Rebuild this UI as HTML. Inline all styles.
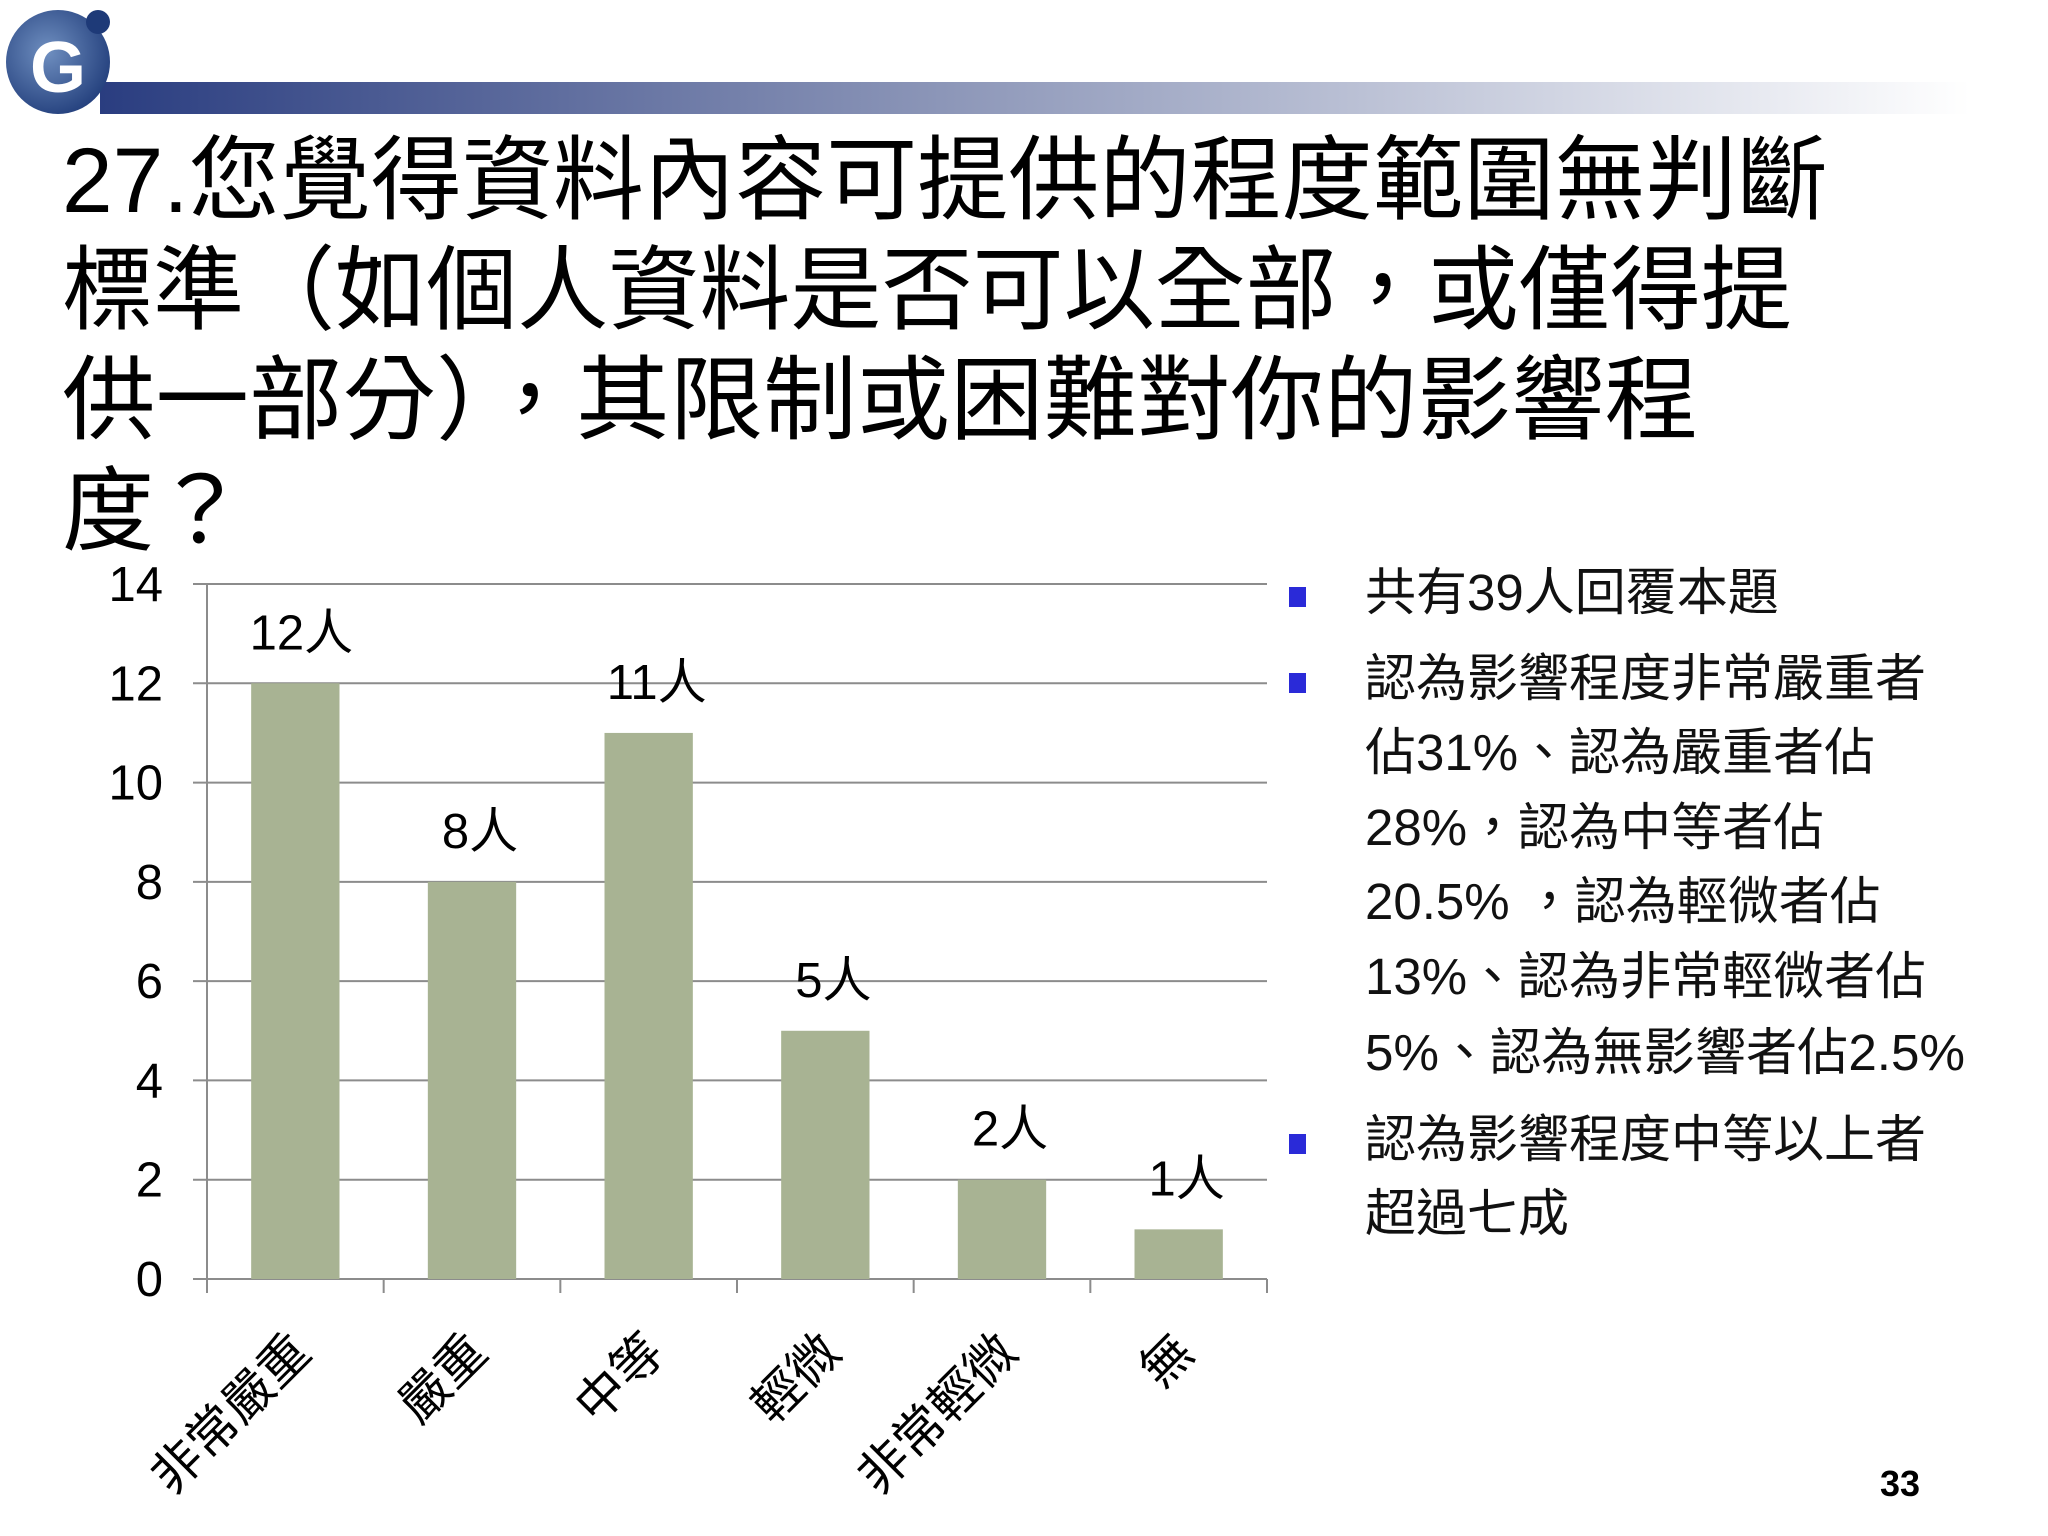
<!DOCTYPE html>
<html><head><meta charset="utf-8"><style>
html,body{margin:0;padding:0;background:#fff}
svg{display:block}
text{font-family:"Liberation Sans","Noto Sans CJK TC",sans-serif;}
</style></head><body>
<svg id="chart" width="2048" height="1536" viewBox="0 0 2048 1536" xmlns="http://www.w3.org/2000/svg">
<defs>
<linearGradient id="hb" x1="0" x2="1" y1="0" y2="0">
<stop offset="0" stop-color="#2a3d80"/><stop offset="0.45" stop-color="#8c96b8"/><stop offset="1" stop-color="#ffffff"/>
</linearGradient>
<radialGradient id="lg" cx="0.4" cy="0.4" r="0.7"><stop offset="0" stop-color="#6f8fc0"/><stop offset="1" stop-color="#1e3a78"/></radialGradient>
</defs>
<rect x="100" y="82" width="1870" height="32" fill="url(#hb)"/>
<g>
<circle cx="58" cy="62" r="52" fill="url(#lg)"/>
<text x="30" y="92" font-size="72" font-weight="bold" fill="#ffffff">G</text>
<circle cx="98" cy="22" r="12" fill="#1e3a78"/>
</g>
<g font-size="92" fill="#000">
<text x="62" y="212" textLength="1766" lengthAdjust="spacingAndGlyphs">27.您覺得資料內容可提供的程度範圍無判斷</text>
<text x="62" y="322" textLength="1730" lengthAdjust="spacingAndGlyphs">標準（如個人資料是否可以全部，或僅得提</text>
<text x="62" y="432" textLength="1636" lengthAdjust="spacingAndGlyphs">供一部分），其限制或困難對你的影響程</text>
<text x="62" y="543">度？</text>
</g>
<g id="plot"></g>
<g font-size="51" fill="#111">
<rect x="1289" y="587" width="17" height="20" fill="#2a2ad8"/>
<rect x="1289" y="673" width="17" height="20" fill="#2a2ad8"/>
<rect x="1289" y="1134" width="17" height="20" fill="#2a2ad8"/>
<text x="1365" y="610">共有39人回覆本題</text>
<text x="1365" y="696">認為影響程度非常嚴重者</text>
<text x="1365" y="770">佔31%、認為嚴重者佔</text>
<text x="1365" y="845">28%，認為中等者佔</text>
<text x="1365" y="919">20.5% ，認為輕微者佔</text>
<text x="1365" y="994">13%、認為非常輕微者佔</text>
<text x="1365" y="1070" textLength="600" lengthAdjust="spacingAndGlyphs">5%、認為無影響者佔2.5%</text>
<text x="1365" y="1157">認為影響程度中等以上者</text>
<text x="1365" y="1231">超過七成</text>
</g>
<text x="1880" y="1496" font-size="36" font-weight="bold">33</text>
</svg>
<script>
const categories = ["非常嚴重","嚴重","中等","輕微","非常輕微","無"];
const values = [12, 8, 11, 5, 2, 1];
const valueLabels = ["12人","8人","11人","5人","2人","1人"];
const yTicks = [0, 2, 4, 6, 8, 10, 12, 14];

const NS = "http://www.w3.org/2000/svg";
const g = document.getElementById('plot');
const X0 = 207, X1 = 1267, Y0 = 1279, Y1 = 584, YMAX = 14;
const catW = (X1 - X0) / categories.length;
const barW = catW * 0.5;
function y(v){ return Y0 - (v / YMAX) * (Y0 - Y1); }
function xc(i){ return X0 + catW * (i + 0.5); }
function mk(tag, attrs){ const e = document.createElementNS(NS, tag); for (const k in attrs) e.setAttribute(k, attrs[k]); g.appendChild(e); return e; }

yTicks.forEach(t => {
  const l = mk('line', {x1: 193, x2: X1, y1: y(t), y2: y(t), stroke: '#8c8c8c', 'stroke-width': 2});
  
  
  const tx = mk('text', {x: 163, y: y(t) + 17, 'font-size': 49, 'text-anchor': 'end', fill: '#000'});
  tx.textContent = t;
  
  
});
const ax = mk('line', {x1: X0, x2: X0, y1: Y1, y2: Y0 + 14, stroke: '#8c8c8c', 'stroke-width': 2});


for (let i = 1; i <= categories.length; i++) {
  const tk = mk('line', {x1: X0 + catW * i, x2: X0 + catW * i, y1: Y0, y2: Y0 + 14, stroke: '#8c8c8c', 'stroke-width': 2});
  
  
}
values.forEach((v, i) => {
  const r = mk('rect', {x: xc(i) - barW / 2, y: y(v), width: barW, height: Y0 - y(v), fill: '#a8b393'});
  
  
  const lb = mk('text', {x: xc(i) + (i === 0 ? 6 : 8), y: y(v) - 34, 'font-size': 49, 'text-anchor': 'middle', fill: '#000'});
  lb.textContent = valueLabels[i];
  
  
  const cx = xc(i) + 18, cy = Y0 + 76;
  const cl = mk('text', {x: cx, y: cy, 'font-size': 50, 'text-anchor': 'end', fill: '#000', transform: 'rotate(-45 ' + cx + ' ' + cy + ')'});
  cl.textContent = categories[i];
  
  
});
</script>
</body></html>
